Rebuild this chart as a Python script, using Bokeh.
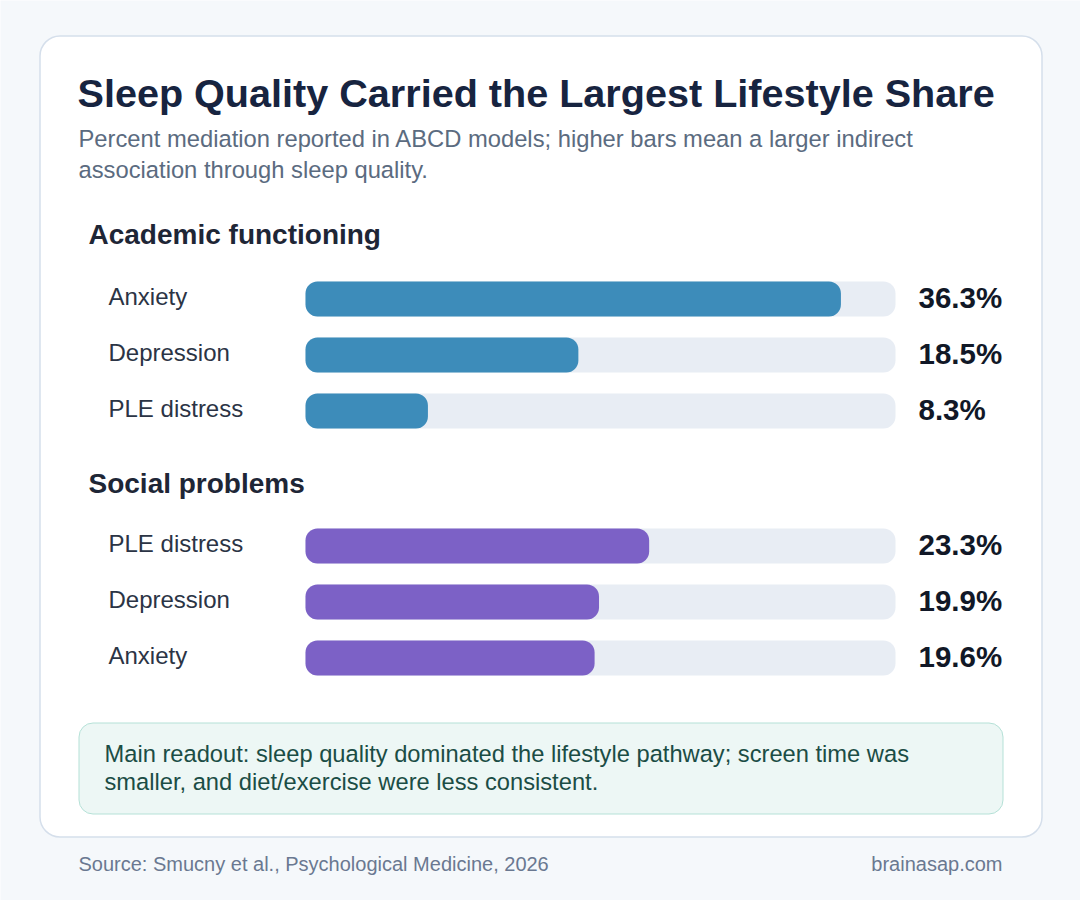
from bokeh.plotting import figure
from bokeh.models import Range1d, ColumnDataSource
from bokeh.core.properties import value
from bokeh.embed import file_html
from bokeh.resources import INLINE

# ---------------- data ----------------
groups = ["Academic functioning", "Social problems"]
academic_labels = ["Anxiety", "Depression", "PLE distress"]
academic_values = [36.3, 18.5, 8.3]
social_labels = ["PLE distress", "Depression", "Anxiety"]
social_values = [23.3, 19.9, 19.6]
scale_max = 40.0

title = "Sleep Quality Carried the Largest Lifestyle Share"
subtitle = ["Percent mediation reported in ABCD models; higher bars mean a larger indirect",
            "association through sleep quality."]
note = ["Main readout: sleep quality dominated the lifestyle pathway; screen time was",
        "smaller, and diet/exercise were less consistent."]
source = "Source: Smucny et al., Psychological Medicine, 2026"
site = "brainasap.com"

# ---------------- layout (pixels) ----------------
W, H = 1080, 900
TRACK_X0, TRACK_X1 = 305, 895
BAR_H = 35
academic_y = [298.5, 354.5, 410.5]
social_y = [545.5, 601.5, 657.5]
FONT = "Liberation Sans"

p = figure(width=W, height=H, x_range=Range1d(0, W), y_range=Range1d(H, 0),
           output_backend="svg", toolbar_location=None, min_border=0,
           background_fill_color="#f5f8fb", border_fill_color="#f5f8fb")
p.axis.visible = False
p.grid.visible = False
p.outline_line_color = None

# percent scale mapped onto the bar track
span = TRACK_X1 - TRACK_X0
p.extra_x_ranges = {"pct": Range1d(-TRACK_X0 / span * scale_max,
                                   scale_max + (W - TRACK_X1) / span * scale_max)}

# card
p.quad(left=[39.5], right=[1041.5], top=[35.5], bottom=[836.5],
       fill_color="white", line_color="#d5dfeb", line_width=1.5, border_radius=20)

# callout
p.quad(left=[78.5], right=[1002.5], top=[722.5], bottom=[813.5],
       fill_color="#edf7f5", line_color="#b5e1d7", line_width=1, border_radius=14)

# title / subtitle
p.text(x=[77], y=[92.5], text=[title], text_font=value(FONT), text_font_style="bold",
       text_font_size="39.6px", text_color="#172440", text_baseline="middle")
p.text(x=[78, 78], y=[137.5, 169], text=subtitle, text_font=value(FONT),
       text_font_size="23.75px", text_color="#5b6b80", text_baseline="middle")

# section headers
p.text(x=[88, 88], y=[233.5, 483], text=groups, text_font=value(FONT), text_font_style="bold",
       text_font_size="28px", text_color="#1e2636", text_baseline="middle")

def draw_group(labels, vals, ys, color):
    src = ColumnDataSource(dict(y=ys, v=vals, zero=[0] * len(vals), full=[scale_max] * len(vals),
                                lab=labels, txt=[f"{v:.1f}%" for v in vals]))
    p.hbar(y="y", left="zero", right="full", height=BAR_H, source=src, x_range_name="pct",
           fill_color="#e8edf4", line_color=None, border_radius=12)
    p.hbar(y="y", left="zero", right="v", height=BAR_H, source=src, x_range_name="pct",
           fill_color=color, line_color=None, border_radius=12)
    p.text(x=108, y="y", y_offset=-3, text="lab", source=src, text_font=value(FONT),
           text_font_size="24px", text_color="#2b3445", text_baseline="middle")
    p.text(x=918, y="y", y_offset=-1.5, text="txt", source=src, text_font=value(FONT),
           text_font_style="bold", text_font_size="29.5px", text_color="#111827",
           text_baseline="middle")

draw_group(academic_labels, academic_values, academic_y, "#3d8cba")
draw_group(social_labels, social_values, social_y, "#7c61c6")

# callout text
p.text(x=[104, 104], y=[753.5, 781.5], text=note, text_font=value(FONT),
       text_font_size="23.7px", text_color="#1b4d45", text_baseline="middle")

# footer
p.text(x=[78], y=[863], text=[source], text_font=value(FONT), text_font_size="20px",
       text_color="#6a7891", text_baseline="middle")
p.text(x=[1002], y=[863], text=[site], text_font=value(FONT), text_font_size="20px",
       text_color="#6a7891", text_baseline="middle", text_align="right")

open("out.html", "w").write(file_html(p, INLINE))
